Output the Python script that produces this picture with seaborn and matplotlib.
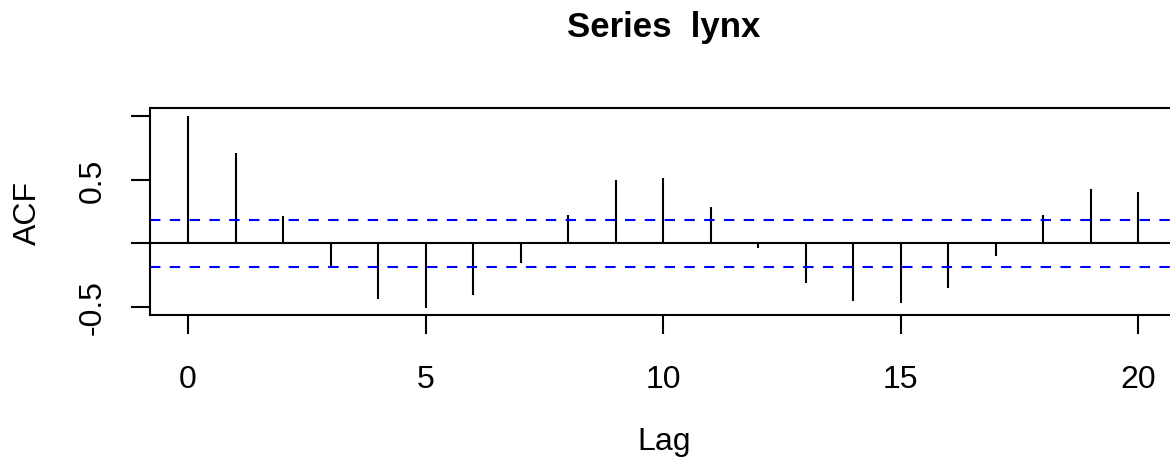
import numpy as np
import matplotlib
matplotlib.use("Agg")
import matplotlib.pyplot as plt
import seaborn as sns

# ACF of the lynx series
lags = [0, 1, 2, 3, 4, 5, 6, 7, 8, 9, 10, 11, 12, 13, 14, 15, 16, 17, 18, 19, 20]
acf_values = [1.0, 0.711, 0.218, -0.187, -0.435, -0.506, -0.409, -0.153, 0.223, 0.500,
              0.513, 0.284, -0.035, -0.310, -0.456, -0.466, -0.349, -0.103, 0.226, 0.427, 0.406]
conf_bound = 0.1836   # 1.96 / sqrt(114)

x_ticks = [0, 5, 10, 15, 20]
y_ticks = [-0.5, 0.0, 0.5, 1.0]
y_tick_labels = ["-0.5", "", "0.5", ""]

sns.set_style("ticks")
plt.rcParams["font.family"] = ["Liberation Sans", "DejaVu Sans"]
plt.rcParams["text.color"] = "black"
plt.rcParams["axes.labelcolor"] = "black"
plt.rcParams["xtick.color"] = "black"
plt.rcParams["ytick.color"] = "black"

fig = plt.figure(figsize=(11.7, 4.6), dpi=100)
ax = fig.add_axes([0.1282, 0.3122, 0.8771, 0.4502])

lw = 1.5
ax.vlines(lags, 0, acf_values, color="black", lw=lw)
ax.axhline(0, color="black", lw=lw)
ax.axhline(conf_bound, color="#0000ff", lw=lw, ls=(0, (5, 4.5)))
ax.axhline(-conf_bound, color="#0000ff", lw=lw, ls=(0, (5, 4.5)))

ax.set_xlim(-0.8, 20.8)
ax.set_ylim(-0.566, 1.06)
ax.set_xticks(x_ticks)
ax.set_xticklabels([str(t) for t in x_ticks], fontsize=23, color="black")
ax.set_yticks(y_ticks)
ax.set_yticklabels(y_tick_labels, fontsize=23, rotation=90, va="center", color="black")
ax.tick_params(axis="both", length=13.7, width=lw, color="black")
ax.tick_params(axis="x", pad=21)
ax.tick_params(axis="y", pad=16.5)
for s in ax.spines.values():
    s.set_linewidth(lw)
    s.set_color("black")
    s.set_visible(True)

fig.text(664 / 1170, 1 - 28 / 460, "Series  lynx", fontsize=25, fontweight="bold",
         ha="center", va="center", color="black")
fig.text(664 / 1170, 1 - 442 / 460, "Lag", fontsize=23, ha="center", va="center", color="black")
fig.text(28 / 1170, 1 - 213 / 460, "ACF", fontsize=23, rotation=90, ha="center", va="center",
         color="black")

fig.savefig("out.png", dpi=100)
